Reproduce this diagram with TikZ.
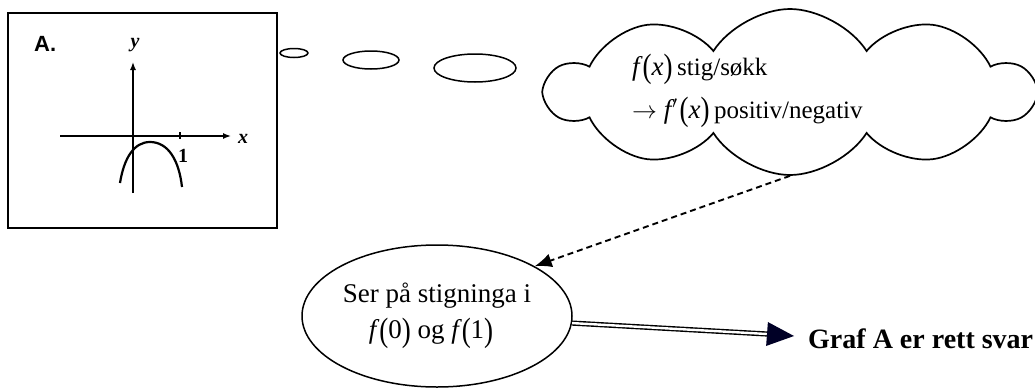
\documentclass[tikz,border=0pt]{standalone}
\usepackage{graphicx}
\usepackage{fontspec}
\setmainfont{Liberation Serif}
\newfontfamily\arialfont{Liberation Sans}
\usetikzlibrary{shapes.symbols,shapes.geometric,arrows.meta,calc}
\tikzset{
  ax/.style={line width=1.4pt,-{Latex[length=8pt,width=6pt]}},
  bubble/.style={draw,line width=1.5pt,ellipse,inner sep=0pt},
  lbl/.style={font=\fontsize{20}{22}\selectfont\bfseries\itshape,inner sep=0pt},
  big/.style={font=\fontsize{27}{32}\selectfont,inner sep=0pt},
}
\newcommand{\lpar}{\raisebox{-0.1em}{\scalebox{1}[1.25]{(}}}
\newcommand{\rpar}{\raisebox{-0.1em}{\scalebox{1}[1.25]{)}}}
\newcommand{\fx}[1]{\textit{f\kern3pt}\lpar#1\rpar}
\begin{document}
\begin{tikzpicture}[x=1pt,y=-1pt]
\useasboundingbox (0,0) rectangle (1035,388);
% graph box
\node[draw,line width=2.6pt,minimum width=269pt,minimum height=215pt,inner sep=0pt] (box) at (142.5,120.5) {};
\node[font=\arialfont\fontsize{22}{24}\selectfont\bfseries,inner sep=0pt,anchor=base west] (A) at (34,51) {A.};
\node[lbl,anchor=base] (ylab) at (135,47) {y};
\node[lbl,anchor=base] (xlab) at (243,143) {x};
\node[font=\fontsize{20}{22}\selectfont\bfseries,inner sep=0pt,anchor=base] (one) at (183,162) {1};
\coordinate (yb) at (133,193); \coordinate (yt) at (133,62);
\coordinate (xl) at (60,136); \coordinate (xr) at (231,136);
\draw[ax] (yb) -- (yt);
\draw[ax] (xl) -- (xr);
\coordinate (t1) at (180,132); \coordinate (t2) at (180,139);
\draw[line width=1.2pt] (t1) -- (t2);
\coordinate (p0) at (120,183); \coordinate (pm) at (150,142); \coordinate (p1) at (182,187);
\draw[line width=2.2pt] (p0) .. controls (124,158) and (134,142) .. (pm) .. controls (168,142) and (179,160) .. (p1);
% thought bubbles
\node[bubble,minimum width=28pt,minimum height=9pt] (b1) at (294,53) {};
\node[bubble,minimum width=56pt,minimum height=18pt] (b2) at (371,60) {};
\node[bubble,minimum width=82pt,minimum height=28pt] (b3) at (475,68) {};
% cloud
\node[cloud,draw,line width=1.7pt,cloud puffs=10,cloud puff arc=115,cloud ignores aspect,minimum width=486pt,minimum height=166pt,inner sep=0pt] (cl) at (790,92) {};
\node[big,anchor=base west,align=left] (ct1) at (632,75) {\fx{\textit{x}}\,{\fontsize{25}{28}\selectfont stig/søkk}};
\node[big,anchor=base west,align=left] (ct2) at (632,118) {$\rightarrow$\ \textit{f\kern1pt}$'$\kern2pt\lpar\textit{x}\rpar\,{\fontsize{25}{28}\selectfont positiv/negativ}};
% ellipse
\node[draw,ellipse,line width=1.5pt,minimum width=270pt,minimum height=142pt,inner sep=0pt,big,align=center] (el) at (437,316) {Ser på stigninga i\\[4pt]\fx{0} og \fx{1}\hspace*{12pt}};
% answer
\node[font=\fontsize{28}{32}\selectfont\bfseries,inner sep=0pt,anchor=base west] (ans) at (808,348) {Graf A er rett svar};
% dashed arrow
\draw[line width=1.9pt,dash pattern=on 6pt off 4pt,-{Latex[length=17pt,width=14pt]}] (cl.south) -- (el.27);
% double arrow
\coordinate (hb) at (767,334);
\coordinate (ht) at (794,336);
\draw[double,double distance=2.4pt,line width=1.4pt] (el.-3) -- (hb);
\fill[black!85!blue] ($(hb)!12pt!90:(ht)$) -- (ht) -- ($(hb)!12pt!-90:(ht)$) -- cycle;
\end{tikzpicture}
\end{document}
